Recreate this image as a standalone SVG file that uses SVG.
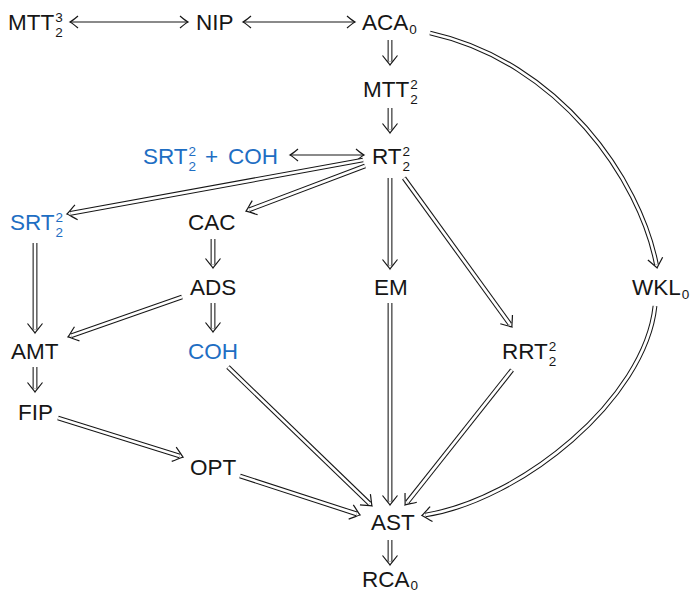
<svg xmlns="http://www.w3.org/2000/svg" width="694" height="594" viewBox="0 0 694 594">
<style>
text{font-family:"Liberation Sans",Arial,sans-serif;font-size:22.5px;fill:#161616}
.b{fill:#1e6ec3}
.s{font-size:13.5px}
.o{fill:none;stroke:#161616;stroke-width:4.8}
.i{fill:none;stroke:#fff;stroke-width:2.7}
.l{fill:none;stroke:#161616;stroke-width:1.2}
</style>
<defs>
<marker id="dh" markerUnits="userSpaceOnUse" orient="auto" refX="-3.5" refY="0" markerWidth="30" markerHeight="30" overflow="visible">
<path d="M-9.5,-7.5 C-5.5,-4.5 -2,-1.2 0,0 C-2,1.2 -5.5,4.5 -9.5,7.5" fill="none" stroke="#161616" stroke-width="1.2"/>
</marker>
<marker id="sh" markerUnits="userSpaceOnUse" orient="auto-start-reverse" refX="0" refY="0" markerWidth="30" markerHeight="30" overflow="visible">
<path d="M-8,-6 C-4.5,-3 -2,-1 0,0 C-2,1 -4.5,3 -8,6" fill="none" stroke="#161616" stroke-width="1.2"/>
</marker>
</defs>

<g id="connectors">
<g id="e-mtt3-nip"><path class="l" d="M70,22 H188" marker-start="url(#sh)" marker-end="url(#sh)"/></g>
<g id="e-nip-aca"><path class="l" d="M243,22 H355" marker-start="url(#sh)" marker-end="url(#sh)"/></g>
<g id="e-srtcoh-rt"><path class="l" d="M290,155 H364" marker-start="url(#sh)" marker-end="url(#sh)"/></g>

<g id="e-aca-mtt2"><path class="o" d="M390,40 V61.5"/><path class="i" d="M390,40 V61.5" marker-end="url(#dh)"/></g>
<g id="e-mtt2-rt"><path class="o" d="M390,108 V129.5"/><path class="i" d="M390,108 V129.5" marker-end="url(#dh)"/></g>
<g id="e-rt-srt"><path class="o" d="M363,160 L70.4,213.4"/><path class="i" d="M363,160 L70.4,213.4" marker-end="url(#dh)"/></g>
<g id="e-rt-cac"><path class="o" d="M365,166 L249.3,209.8"/><path class="i" d="M365,166 L249.3,209.8" marker-end="url(#dh)"/></g>
<g id="e-rt-em"><path class="o" d="M390,178 V265.5"/><path class="i" d="M390,178 V265.5" marker-end="url(#dh)"/></g>
<g id="e-rt-rrt"><path class="o" d="M404,178 L509.9,324.2"/><path class="i" d="M404,178 L509.9,324.2" marker-end="url(#dh)"/></g>
<g id="e-aca-wkl"><path class="o" d="M430,33 C560,62 640,180 656.4,264.5"/><path class="i" d="M430,33 C560,62 640,180 656.4,264.5" marker-end="url(#dh)"/></g>
<g id="e-srt-amt"><path class="o" d="M35,243 V329.5"/><path class="i" d="M35,243 V329.5" marker-end="url(#dh)"/></g>
<g id="e-cac-ads"><path class="o" d="M213,239 V264.5"/><path class="i" d="M213,239 V264.5" marker-end="url(#dh)"/></g>
<g id="e-ads-amt"><path class="o" d="M182,297 L71.3,335.8"/><path class="i" d="M182,297 L71.3,335.8" marker-end="url(#dh)"/></g>
<g id="e-ads-coh"><path class="o" d="M213,303 V328.5"/><path class="i" d="M213,303 V328.5" marker-end="url(#dh)"/></g>
<g id="e-amt-fip"><path class="o" d="M35,367 V388.5"/><path class="i" d="M35,367 V388.5" marker-end="url(#dh)"/></g>
<g id="e-fip-opt"><path class="o" d="M58,418 L179.7,456"/><path class="i" d="M58,418 L179.7,456" marker-end="url(#dh)"/></g>
<g id="e-coh-ast"><path class="o" d="M228,367 L369.5,503.6"/><path class="i" d="M228,367 L369.5,503.6" marker-end="url(#dh)"/></g>
<g id="e-opt-ast"><path class="o" d="M240,476 L356.7,513.9"/><path class="i" d="M240,476 L356.7,513.9" marker-end="url(#dh)"/></g>
<g id="e-em-ast"><path class="o" d="M390,303 V501.5"/><path class="i" d="M390,303 V501.5" marker-end="url(#dh)"/></g>
<g id="e-rrt-ast"><path class="o" d="M512,370 L407.2,502.3"/><path class="i" d="M512,370 L407.2,502.3" marker-end="url(#dh)"/></g>
<g id="e-wkl-ast"><path class="o" d="M655,306 C645,400 520,500 425.4,515"/><path class="i" d="M655,306 C645,400 520,500 425.4,515" marker-end="url(#dh)"/></g>
<g id="e-ast-rca"><path class="o" d="M390,540 V561.5"/><path class="i" d="M390,540 V561.5" marker-end="url(#dh)"/></g>
</g>

<g id="n-mtt23"><text x="8" y="30">MTT<tspan class="s" dx="1" dy="-8">3</tspan><tspan class="s" dx="-7.5" dy="15">2</tspan></text></g>
<g id="n-nip"><text x="196" y="30">NIP</text></g>
<g id="n-aca0"><text x="362" y="30">ACA<tspan class="s" dx="1" dy="4">0</tspan></text></g>
<g id="n-mtt22"><text x="363" y="97">MTT<tspan class="s" dx="1" dy="-8">2</tspan><tspan class="s" dx="-7.5" dy="15">2</tspan></text></g>
<g id="n-rt22"><text x="372" y="164">RT<tspan class="s" dx="1" dy="-8">2</tspan><tspan class="s" dx="-7.5" dy="15">2</tspan></text></g>
<g id="n-srtcoh"><text class="b" x="143" y="164">SRT<tspan class="s b" dx="1" dy="-8">2</tspan><tspan class="s b" dx="-7.5" dy="15">2</tspan><tspan class="b" x="205" y="164">+</tspan><tspan class="b" x="228" y="164">COH</tspan></text></g>
<g id="n-srt22"><text class="b" x="10" y="230">SRT<tspan class="s b" dx="1" dy="-8">2</tspan><tspan class="s b" dx="-7.5" dy="15">2</tspan></text></g>
<g id="n-cac"><text x="188" y="230">CAC</text></g>
<g id="n-ads"><text x="190" y="295">ADS</text></g>
<g id="n-em"><text x="374" y="295">EM</text></g>
<g id="n-wkl0"><text x="632" y="295">WKL<tspan class="s" dx="1" dy="4">0</tspan></text></g>
<g id="n-amt"><text x="11" y="359">AMT</text></g>
<g id="n-coh"><text class="b" x="188" y="359">COH</text></g>
<g id="n-rrt22"><text x="502" y="359">RRT<tspan class="s" dx="1" dy="-8">2</tspan><tspan class="s" dx="-7.5" dy="15">2</tspan></text></g>
<g id="n-fip"><text x="18" y="420">FIP</text></g>
<g id="n-opt"><text x="190" y="475">OPT</text></g>
<g id="n-ast"><text x="371" y="530">AST</text></g>
<g id="n-rca0"><text x="362" y="587">RCA<tspan class="s" dx="1" dy="3">0</tspan></text></g>
</svg>
